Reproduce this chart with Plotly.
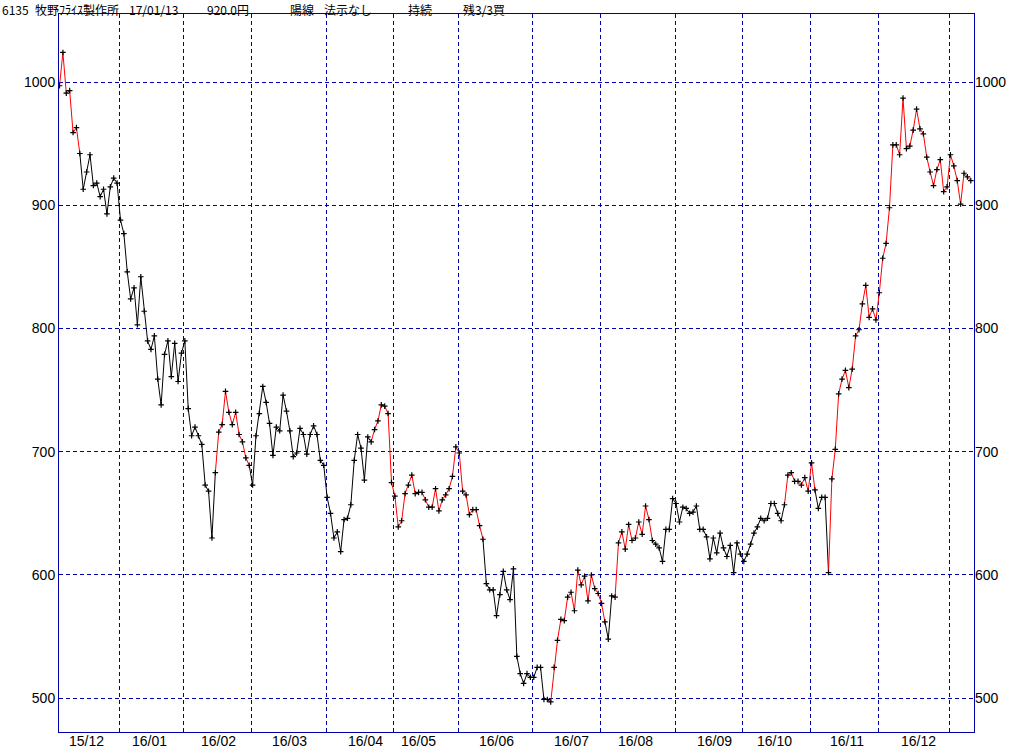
import plotly.graph_objects as go

# ---------------- data ----------------
close_prices = [
    997, 1024, 991, 993, 959, 963, 942, 913, 927, 941,
    916, 918, 907, 913, 893, 915, 922, 918, 888, 877,
    846, 824, 833, 803, 842, 814, 790, 783, 794, 759,
    738, 779, 790, 761, 788, 757, 780, 790, 735, 713,
    720, 713, 706, 673, 668, 630, 683, 716, 722, 749,
    732, 722, 732, 714, 708, 695, 689, 673, 713, 731,
    753, 740, 723, 697, 720, 717, 746, 733, 717, 696,
    699, 719, 714, 698, 714, 721, 714, 693, 689, 663,
    650, 630, 635, 619, 645, 646, 657, 693, 714, 703,
    677, 712, 708, 718, 725, 738, 737, 731, 675, 664,
    639, 644, 666, 673, 681, 666, 667, 667, 661, 655,
    655, 670, 652, 661, 665, 670, 680, 704, 699, 668,
    665, 649, 653, 653, 640, 629, 593, 588, 588, 567,
    584, 603, 588, 580, 605, 534, 520, 512, 520, 517,
    517, 525, 525, 499, 499, 497, 525, 547, 564, 563,
    582, 586, 571, 604, 592, 599, 579, 600, 589, 585,
    577, 562, 548, 583, 582, 626, 635, 621, 641, 628,
    630, 643, 633, 656, 645, 628, 625, 622, 611, 637,
    637, 662, 658, 643, 655, 654, 650, 651, 656, 637,
    637, 631, 613, 630, 618, 634, 622, 615, 624, 602,
    626, 617, 611, 617, 625, 634, 639, 646, 644, 646,
    658, 658, 650, 644, 657, 681, 683, 676, 676, 673,
    679, 668, 691, 669, 654, 663, 663, 602, 678, 702,
    747, 759, 766, 752, 767, 794, 799, 820, 835, 809,
    816, 807, 829, 857, 869, 898, 949, 949, 941, 987,
    946, 948, 961, 978, 962, 958, 939, 927, 916, 929,
    937, 911, 915, 941, 932, 920, 901, 926, 923, 920,
]
# index runs (first point, last point) drawn in red
red_runs = [(0, 6), (46, 56), (92, 125), (145, 161), (164, 175), (214, 223), (227, 269)]
# first trading-day index of each new month (vertical grid lines)
month_starts = [18, 37, 57, 79, 99, 118, 140, 160, 182, 202, 222, 242, 263]
month_labels = ["15/12", "16/01", "16/02", "16/03", "16/04", "16/05", "16/06",
                "16/07", "16/08", "16/09", "16/10", "16/11", "16/12"]
label_pos = [8.1, 26.5, 46.9, 67.9, 90.2, 105.9, 128.9, 151.0, 169.9, 193.3, 211.2, 232.6, 253.5]
y_ticks = [500, 600, 700, 800, 900, 1000]
header_parts = ["6135", "牧野ﾌﾗｲｽ製作所", "17/01/13", "920.0円", "陽線", "法示なし", "持続", "残3/3買"]
header_center_px = [13, 77, 153, 228, 302, 348, 420, 484]

# ---------------- figure ----------------
W, H = 1032, 749
ML, MR, MT, MB = 59, 58, 14, 17
PW, PH = W - ML - MR, H - MT - MB
NAVY = "#0000A8"
LABEL_FONT = dict(family="Liberation Sans Narrow, Liberation Sans, sans-serif", size=14, color="black")
XR = [-0.15, 269.95]
YR = [472.6, 1055.2]

n = len(close_prices)
xs = list(range(n))


def is_red(i):
    # segment from point i to i+1
    return any(a <= i < b for a, b in red_runs)


fig = go.Figure()

seg = 0
while seg < n - 1:
    red = is_red(seg)
    end = seg
    while end + 1 < n - 1 and is_red(end + 1) == red:
        end += 1
    fig.add_trace(go.Scatter(
        x=xs[seg:end + 2], y=close_prices[seg:end + 2], mode="lines",
        line=dict(color="#FF0000" if red else "black", width=1),
        hoverinfo="skip", showlegend=False))
    seg = end + 1

fig.add_trace(go.Scatter(
    x=xs, y=close_prices, mode="markers",
    marker=dict(symbol="cross-thin", size=4, line=dict(color="black", width=1.2), color="black"),
    showlegend=False))

# invisible trace for right axis
fig.add_trace(go.Scatter(x=[xs[0]], y=[close_prices[0]], yaxis="y2", mode="markers",
                         marker=dict(opacity=0), hoverinfo="skip", showlegend=False))

annotations = []
for i, (txt, px) in enumerate(zip(header_parts, header_center_px)):
    annotations.append(dict(text=txt, xref="paper", yref="paper",
                            x=(1 - ML) / PW if i == 0 else (px - ML) / PW,
                            y=1 + MT / PH, xanchor="left" if i == 0 else "center",
                            yanchor="top", showarrow=False, borderpad=0,
                            font=dict(family="Noto Sans CJK JP", size=12, color="black")))
for txt, pos in zip(month_labels, label_pos):
    annotations.append(dict(text=txt, xref="x", yref="paper", x=pos, y=-9 / PH,
                            xanchor="center", yanchor="middle", showarrow=False, font=LABEL_FONT))

fig.update_layout(
    width=W, height=H,
    margin=dict(l=ML, r=MR, t=MT, b=MB, pad=0, autoexpand=False),
    paper_bgcolor="white", plot_bgcolor="white",
    annotations=annotations,
    xaxis=dict(range=XR, tickmode="array", tickvals=[m - 0.3 for m in month_starts],
               showticklabels=False, ticks="", showgrid=True, gridcolor=NAVY, gridwidth=1,
               griddash="4px,3px", zeroline=False, showline=True, mirror=True,
               linecolor=NAVY, linewidth=1, automargin=False),
    yaxis=dict(range=YR, tickmode="array", tickvals=y_ticks, ticks="", showgrid=True,
               gridcolor=NAVY, gridwidth=1, griddash="4px,3px", zeroline=False,
               showline=True, mirror=True, linecolor=NAVY, linewidth=1, tickfont=LABEL_FONT,
               automargin=False),
    yaxis2=dict(range=YR, overlaying="y", side="right", tickmode="array", tickvals=y_ticks,
                ticks="", showgrid=False, zeroline=False, showline=False, tickfont=LABEL_FONT,
                automargin=False),
)

fig.write_html("out.html", config={"displayModeBar": False},
               post_script="document.body.style.margin='0';")
